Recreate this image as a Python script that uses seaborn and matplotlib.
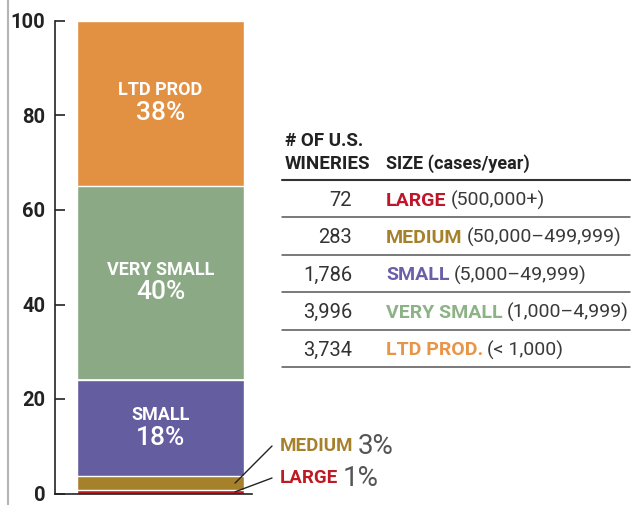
import matplotlib
matplotlib.use("Agg")
import matplotlib.pyplot as plt
import seaborn as sns
import pandas as pd

# Share of U.S. wineries by size, bottom to top (segment heights as drawn)
sizes = ["LARGE", "MEDIUM", "SMALL", "VERY SMALL", "LTD PROD"]
share = [0.7, 3.0, 20.3, 41.1, 34.9]
pct_labels = ["1%", "3%", "18%", "40%", "38%"]
colors = ["#BE1A24", "#A6812B", "#645D9F", "#8BA985", "#E29042"]

# Table on the right
wineries = ["72", "283", "1,786", "3,996", "3,734"]
table_names = ["LARGE", "MEDIUM", "SMALL", "VERY SMALL", "LTD PROD."]
ranges = ["(500,000+)", "(50,000–499,999)", "(5,000–49,999)",
          "(1,000–4,999)", "(< 1,000)"]
table_colors = ["#C0162B", "#A6812B", "#6A5FA8", "#8DB286", "#E8954A"]

yticks = [0, 20, 40, 60, 80, 100]

sns.set_theme(style="white")
plt.rcParams['font.family'] = ['Roboto', 'DejaVu Sans']

df = pd.DataFrame({"size": sizes, "share": share, "pct": pct_labels, "color": colors})
df["top"] = df["share"].cumsum()
df["mid"] = df["top"] - df["share"] / 2
df["grp"] = "US"

fig = plt.figure(figsize=(6.4, 5.05), dpi=100)
ax = fig.add_axes([55 / 640, 11.5 / 505, 197 / 640, 472.5 / 505])

# stacked bar: draw cumulative tops from the top segment down
for i in reversed(range(len(df))):
    sns.barplot(data=df.iloc[[i]], x="grp", y="top", color=df["color"][i],
                saturation=1, width=0.8, errorbar=None, ax=ax, zorder=1)

ax.hlines(df["top"][2], -0.4, 0.4, color="white", lw=1.2, zorder=2)

ax.set_xlim(-0.5054, 0.4383)
ax.set_ylim(0, 100)
ax.set_xticks([])
ax.set_yticks(yticks)
ax.set_xlabel("")
ax.set_ylabel("")
ax.tick_params(axis='y', direction='in', length=7, width=1.2, pad=7,
               labelsize=14.5, colors='#222222', left=True)
for lbl in ax.get_yticklabels():
    lbl.set_fontweight('bold')

for s in ['bottom', 'left']:
    ax.spines[s].set_linewidth(1.2)
    ax.spines[s].set_color('#222222')
ax.spines['top'].set_visible(False)
ax.spines['right'].set_visible(False)

# labels inside the big segments
for i in [2, 3, 4]:
    ax.text(0, df["mid"][i] + 2.8, df["size"][i], ha='center', va='center',
            color='white', fontsize=13, fontweight='bold')
    ax.text(0, df["mid"][i] - 2.0, df["pct"][i], ha='center', va='center',
            color='white', fontsize=19, fontweight='medium')

# overlay in pixel coordinates for the table and callouts
ov = fig.add_axes([0, 0, 1, 1], zorder=5)
ov.set_xlim(0, 640)
ov.set_ylim(505, 0)
ov.axis('off')

# callouts for the two thin segments
for i, ty in [(1, 446), (0, 478)]:
    nm = ov.text(280, ty, df["size"][i], ha='left', va='center', fontsize=13.5,
                 fontweight='bold', color=df["color"][i])
    ov.annotate(df["pct"][i], xy=(1, 0.5), xycoords=nm, xytext=(3, 0),
                textcoords='offset points', ha='left', va='center',
                fontsize=20, color='#555555')
    ax.annotate("", xy=(0.357, df["mid"][i]), xycoords='data',
                xytext=(272, 505 - ty), textcoords='figure pixels',
                arrowprops=dict(arrowstyle='-', color='#222222', lw=1,
                                shrinkA=0, shrinkB=0), annotation_clip=False)

ov.plot([8, 8], [0, 505], color='#b4b4b4', lw=1.5)

ov.text(285, 141, "# OF U.S.", ha='left', va='center', fontsize=13.5,
        fontweight='bold', color='#222222')
ov.text(285, 164, "WINERIES", ha='left', va='center', fontsize=13.5,
        fontweight='bold', color='#222222')
ov.text(386, 164, "SIZE (cases/year)", ha='left', va='center', fontsize=13,
        fontweight='bold', color='#222222')

for k in range(6):
    yl = 180 + 37.4 * k
    ov.plot([282, 630], [yl, yl], color='#333333' if k == 0 else '#555555',
            lw=1.5 if k == 0 else 1.1)

for k in range(len(wineries)):
    yr = 200.5 + 37.4 * k
    ov.text(352, yr, wineries[k], ha='right', va='center', fontsize=14.5,
            color='#333333')
    nm = ov.text(386, yr, table_names[k], ha='left', va='center', fontsize=14,
                 fontweight='bold', color=table_colors[k])
    ov.annotate(ranges[k], xy=(1, 0.5), xycoords=nm, xytext=(3, 0),
                textcoords='offset points', ha='left', va='center',
                fontsize=14, color='#3a3a3a')

fig.savefig("out.png", dpi=100)
